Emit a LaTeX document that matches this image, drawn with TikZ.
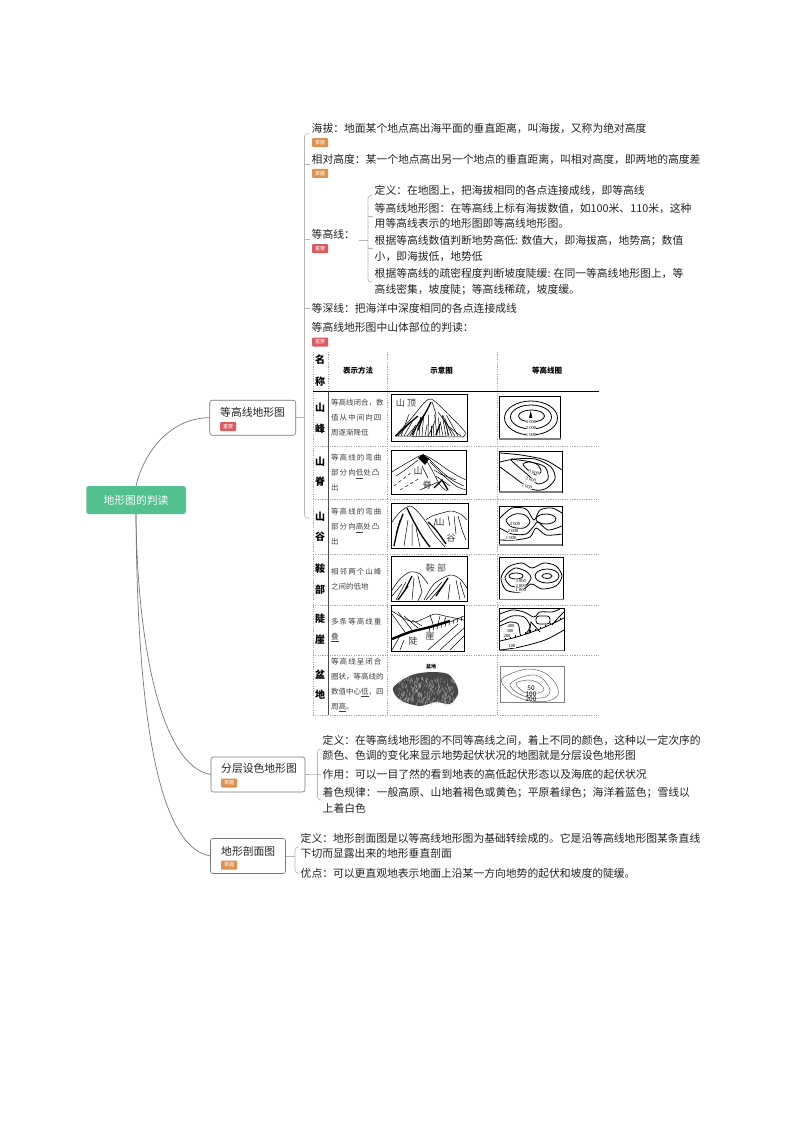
\documentclass[tikz,border=0pt]{standalone}
\usepackage{fontspec}
\setmainfont{Noto Sans CJK SC}
\newfontfamily\numfont{Liberation Serif}
\newfontfamily\widefont[LetterSpace=14]{Noto Sans CJK SC}
\definecolor{rootgreen}{HTML}{52C08F}
\definecolor{tagred}{HTML}{DB5B5F}
\definecolor{tagorange}{HTML}{E0914F}
\definecolor{branchgray}{HTML}{B5B5B5}
\definecolor{curvegray}{HTML}{777777}
\definecolor{inkgray}{HTML}{222222}
\newcommand{\mapbox}[4]{
  \draw[mapframe] (#1,#2) rectangle (#3,#4);
  \draw[draw=gray,line width=1.2pt] (#1,#4) -- (#3,#4);
}
\tikzset{
  topic/.style={draw=curvegray,rounded corners=2.5pt,line width=0.6pt,minimum height=35pt,inner sep=0pt},
  toptext/.style={anchor=west,inner sep=0pt,font=\fontsize{10.8}{13}\selectfont,text=inkgray},
  item/.style={anchor=west,inner sep=0pt,align=left,font=\fontsize{10.8}{15.7}\selectfont,text=inkgray},
  tagbox/.style={anchor=west,fill=#1,text=white,rounded corners=0.8pt,minimum width=16pt,minimum height=9pt,inner sep=0pt,font=\fontsize{5}{6}\selectfont},
  branch/.style={draw=branchgray,line width=0.6pt},
  tickline/.style={branch,shorten >=2pt},
  curveline/.style={draw=curvegray,line width=0.7pt},
  tabdash/.style={draw=gray!70,line width=0.4pt,dash pattern=on 1.2pt off 1.2pt},
  namecell/.style={inner sep=0pt,font=\fontsize{10}{12}\selectfont\bfseries},
  headcell/.style={inner sep=0pt,font=\fontsize{7.5}{9}\selectfont\bfseries},
  celltext/.style={anchor=west,inner sep=0pt,align=left,text=black!75,font=\fontsize{7.5}{15}\selectfont},
  picframe/.style={draw=black,line width=1pt},
  mapframe/.style={draw=black,line width=0.9pt},
  ink/.style={line width=0.5pt},
  inkbold/.style={line width=1.3pt},
  contour/.style={line width=0.8pt},
  sketchlabel/.style={inner sep=0pt,text=black!80,font=\fontsize{9}{10}\selectfont},
  heightlabel/.style={inner sep=0pt,font=\numfont\fontsize{4.6}{5}\selectfont,fill=white,inner xsep=0.3pt}
}
\begin{document}
\begin{tikzpicture}[x=1pt,y=-1pt]
\useasboundingbox (0,0) rectangle (794,1123);
\pgfmathsetseed{7}

\node[fill=rootgreen,rounded corners=2.5pt,minimum width=99.5pt,minimum height=28pt,inner sep=0pt,text=white,font=\fontsize{10.8}{13}\selectfont] (root) at (136,500) {地形图的判读};

\node[topic,minimum width=86pt] (dxt) at (252.7,417.7) {};
\node[toptext] (dxtname) at (220,412) {等高线地形图};
\node[tagbox=tagred] (dxttag) at (220,426.5) {重要};
\node[topic,minimum width=94pt] (fcs) at (258,774.5) {};
\node[toptext] (fcsname) at (221,768) {分层设色地形图};
\node[tagbox=tagorange] (fcstag) at (221,783) {掌握};
\node[topic,minimum width=75pt] (pmt) at (248,856) {};
\node[toptext] (pmtname) at (221,851) {地形剖面图};
\node[tagbox=tagorange] (pmttag) at (221,865) {掌握};

\draw[curveline] (root.north) .. controls (144,452) and (170,418) .. (dxt.west);
\draw[curveline] (root.south) .. controls (137,640) and (160,766) .. (fcs.west);
\draw[curveline] (root.south) .. controls (137,700) and (155,846) .. (pmt.west);

\node[item] (haiba) at (311.5,128.3) {海拔^^^^ff1a地面某个地点高出海平面的垂直距离^^^^ff0c叫海拔^^^^ff0c又称为绝对高度};
\node[tagbox=tagorange] (haibatag) at (312,142.7) {掌握};
\node[item] (xiangdui) at (311.5,159.3) {相对高度^^^^ff1a某一个地点高出另一个地点的垂直距离^^^^ff0c叫相对高度^^^^ff0c即两地的高度差};
\node[tagbox=tagorange] (xiangduitag) at (312,173.3) {掌握};
\node[item] (dgx) at (311.5,234) {等高线^^^^ff1a};
\node[tagbox=tagred] (dgxtag) at (312,248.7) {重要};
\node[item] (dgxdef) at (374.5,190) {定义^^^^ff1a在地图上^^^^ff0c把海拔相同的各点连接成线^^^^ff0c即等高线};
\node[item] (dgxmap) at (374.5,216) {等高线地形图^^^^ff1a在等高线上标有海拔数值^^^^ff0c如100米、110米^^^^ff0c这种\\用等高线表示的地形图即等高线地形图。};
\node[item] (dgxval) at (374.5,248.7) {根据等高线数值判断地势高低: 数值大^^^^ff0c即海拔高^^^^ff0c地势高^^^^ff1b数值\\小^^^^ff0c即海拔低^^^^ff0c地势低};
\node[item] (dgxslope) at (374.5,282) {根据等高线的疏密程度判断坡度陡缓: 在同一等高线地形图上^^^^ff0c等\\高线密集^^^^ff0c坡度陡^^^^ff1b等高线稀疏^^^^ff0c坡度缓。};
\node[item] (dsx) at (311.5,308.3) {等深线^^^^ff1a把海洋中深度相同的各点连接成线};
\node[item] (shanti) at (311.5,327.3) {等高线地形图中山体部位的判读^^^^ff1a};
\node[tagbox=tagred] (shantitag) at (312,342) {重要};

\node[item] (fcsdef) at (322.5,747.8) {定义^^^^ff1a在等高线地形图的不同等高线之间^^^^ff0c着上不同的颜色^^^^ff0c这种以一定次序的\\颜色、色调的变化来显示地势起伏状况的地图就是分层设色地形图};
\node[item] (fcsuse) at (322.5,774.3) {作用^^^^ff1a可以一目了然的看到地表的高低起伏形态以及海底的起伏状况};
\node[item] (fcsrule) at (322.5,800.2) {着色规律^^^^ff1a一般高原、山地着褐色或黄色^^^^ff1b平原着绿色^^^^ff1b海洋着蓝色^^^^ff1b雪线以\\上着白色};
\node[item] (pmtdef) at (300.5,846) {定义^^^^ff1a地形剖面图是以等高线地形图为基础转绘成的。它是沿等高线地形图某条直线\\下切而显露出来的地形垂直剖面};
\node[item] (pmtadv) at (300.5,873) {优点^^^^ff1a可以更直观地表示地面上沿某一方向地势的起伏和坡度的陡缓。};

\coordinate (spine) at (304.5,300);
\coordinate (spineend) at (309,518);
\draw[branch,rounded corners=3pt,shorten <=2pt] (haiba.south west) -| (spine) |- (spineend);
\draw[branch] (spine |- dxt.east) -- (dxt.east);
\draw[tickline] (spine |- xiangdui.south west) -- (xiangdui.south west);
\draw[tickline] (spine |- dgx.south west) -- (dgx.south west);
\draw[tickline] (spine |- dsx.west) -- (dsx.west);

\coordinate (inner) at (368,240);
\coordinate (innerend) at (372,282);
\draw[branch,rounded corners=3pt,shorten <=2pt] (dgxdef.south west) -| (inner) |- (innerend);
\draw[branch] (dgx.south east |- inner) ++(3.5,0) -- (inner);
\draw[tickline] (inner |- dgxmap.west) -- (dgxmap.west);
\draw[tickline] (inner |- dgxval.west) -- (dgxval.west);

\coordinate (fcsspine) at (317.5,774.3);
\coordinate (fcstop) at (321,749);
\coordinate (fcsbot) at (321,800);
\draw[branch,rounded corners=3pt] (fcstop) -| (fcsspine) |- (fcsbot);
\draw[branch] (fcs.east) -- (fcsspine);
\draw[tickline] (fcsspine) -- (fcsuse.west);

\coordinate (pmtspine) at (295,856);
\coordinate (pmttop) at (299,847);
\coordinate (pmtbot) at (299,873);
\draw[branch,rounded corners=3pt] (pmttop) -| (pmtspine) |- (pmtbot);
\draw[branch] (pmt.east) -- (pmtspine);

\foreach \y in {446,499.3,554,605.3,655.3,715}
  \draw[tabdash] (312.7,\y) -- (599,\y);
\draw[tabdash] (312.7,352) -- (312.7,715);
\draw[tabdash] (328,352) -- (328,391);
\draw[tabdash] (387.3,352) -- (387.3,715);
\draw[tabdash] (496.7,352) -- (496.7,715);
\draw[line width=0.8pt] (312.7,391.3) -- (599,391.3);
\draw[draw=black!70,line width=0.9pt] (328,391.3) -- (328,715);

\node[namecell] (head1) at (320,360) {名};
\node[namecell] (head2) at (320,381.7) {称};
\node[headcell] (head3) at (358,371) {表示方法};
\node[headcell] (head4) at (441.7,371) {示意图};
\node[headcell] (head5) at (547,371) {等高线图};
\foreach \i/\a/\b/\ya/\yb in {1/山/峰/408/429,2/山/脊/462/482,3/山/谷/517/537,4/鞍/部/569/590,5/陡/崖/619/640,6/盆/地/675/695}{
  \node[namecell] (namea\i) at (320,\ya) {\a};
  \node[namecell] (nameb\i) at (320,\yb) {\b};
}
\node[celltext] (cell1) at (331,418) {等高线闭合^^^^ff0c数\\{\widefont 值从中间向四}\\周逐渐降低};
\node[celltext] (cell2) at (331,473) {{\widefont 等高线的弯曲}\\{\widefont 部分向\underline{低}处凸}\\出};
\node[celltext] (cell3) at (331,527) {{\widefont 等高线的弯曲}\\{\widefont 部分向\underline{高}处凸}\\出};
\node[celltext] (cell4) at (331,579.5) {{\widefont 相邻两个山峰}\\之间的低地};
\node[celltext] (cell5) at (331,630) {{\widefont 多条等高线重}\\\underline{叠}};
\node[celltext] (cell6) at (331,685) {{\widefont 等高线呈闭合}\\圈状^^^^ff0c等高线的\\数值中心\underline{低}^^^^ff0c四\\周\underline{高}。};

% peak
\draw[picframe] (391.3,394.3) rectangle (467.7,441.7);
\draw[ink] plot[smooth] coordinates {(395,436) (410,420) (424,403) (431,399) (440,406) (452,418) (465,432) (463,437)};
\draw[ink] (395,436) -- (463,437);
\draw[inkbold] plot[smooth] coordinates {(396,436) (405,427) (418,416)};
\draw[inkbold] plot[smooth] coordinates {(431,402) (426,412) (418,424) (412,435)};
\draw[ink] plot[smooth] coordinates {(432,402) (436,416) (432,428) (428,436)};
\draw[ink] plot[smooth] coordinates {(438,412) (446,424) (448,436)};
\foreach \bx in {398,401,...,462}
  \draw[ink] (\bx,436) -- ({431+(\bx-431)*(0.55+rnd*0.3)},{436-8-rnd*14});
\draw[inkbold] (424,415) -- (418,430);
\draw[inkbold] (440,424) -- (436,435);
\node[sketchlabel] (peaklabel) at (406,403) {山 顶};
\mapbox{499.3}{396}{560.7}{439}
\draw[contour] (531,418) ellipse (26.5 and 17);
\draw[contour] (531,417) ellipse (20.5 and 12);
\draw[contour] (531.5,416) ellipse (13 and 6);
\fill (530.7,411) -- (529,418) -- (532.4,418) -- cycle;
\node[heightlabel] (peakh3) at (531,422) {3 000};
\node[heightlabel] (peakh2) at (531,428) {2 000};
\node[heightlabel] (peakh1) at (531,434.5) {1 000};

% ridge
\draw[picframe] (391.3,450) rectangle (466.7,494.3);
\draw[ink] plot[smooth] coordinates {(392,472) (400,467) (412,460) (423,455) (435,461) (448,470) (458,476) (466,480)};
\fill (418,458) -- (423,454) -- (429,459) -- (425,465) -- cycle;
\draw[ink] plot[smooth] coordinates {(425,458) (432,470) (440,485) (447,491)};
\draw[ink] plot[smooth] coordinates {(428,458) (440,470) (452,480) (464,486)};
\draw[ink] plot[smooth] coordinates {(430,462) (444,476) (456,486) (466,490)};
\draw[ink] plot[smooth] coordinates {(418,460) (405,470) (396,476)};
\draw[ink,dashed] (394,486) -- (412,472);
\draw[ink,dashed] (400,490) -- (420,478);
\draw[ink] (434,470) -- (444,476) (440,474) -- (456,480) (436,476) -- (450,486) (422,466) -- (428,478);
\draw[inkbold] (434,488) -- (442,480) -- (448,490);
\draw[ink] (420,490) -- (438,482);
\node[sketchlabel] (ridgelabela) at (418,471) {山};
\node[sketchlabel] (ridgelabelb) at (427,485) {脊};
\mapbox{499.3}{451}{562}{492}
\draw[contour] plot[smooth] coordinates {(500,453) (521,455) (545,460) (562,470)};
\draw[contour] plot[smooth] coordinates {(500,467) (511,475) (531,489) (545,489) (555,479) (551,467) (535,459) (515,459) (500,462)};
\draw[contour] plot[smooth cycle] coordinates {(511,460) (528,475) (538,484) (548,479) (545,467) (531,462) (518,460)};
\draw[contour] plot[smooth cycle] coordinates {(523,464) (528,470) (536,475) (541,472) (538,465) (530,462)};
\node[heightlabel,rotate=-15] (ridgeh3) at (534,472.5) {3 000};
\node[heightlabel,rotate=-15] (ridgeh2) at (531,479.5) {2 000};
\node[heightlabel,rotate=-15] (ridgeh1) at (527,486.5) {1 000};

% valley
\draw[picframe] (391.3,503.3) rectangle (468.3,548.3);
\draw[ink] plot[smooth] coordinates {(392,522) (400,512) (410,506) (418,512) (426,522) (434,534) (445,547)};
\draw[ink] plot[smooth] coordinates {(426,520) (432,516) (442,513) (452,511) (462,515) (467,520)};
\draw[inkbold] plot[smooth] coordinates {(407,508) (414,522) (422,536) (430,547)};
\draw[inkbold] plot[smooth] coordinates {(403,514) (398,528) (394,546)};
\draw[inkbold] plot[smooth] coordinates {(428,522) (436,530) (446,544)};
\draw[ink] (408,520) -- (404,546) (416,528) -- (420,547) (458,516) -- (462,530) (448,516) -- (450,526) (412,524) -- (412,546) (400,520) -- (396,534) (454,516) -- (456,534) (436,518) -- (434,526) (462,530) -- (466,540);
\node[sketchlabel] (valleylabela) at (440,522) {山};
\node[sketchlabel] (valleylabelb) at (451,538) {谷};
\mapbox{499.3}{506.7}{562}{545}
\draw[contour] plot[smooth cycle] coordinates {(506,520) (515,514) (525,515) (530,522) (524,528) (512,527)};
\draw[contour] plot[smooth] coordinates {(500,518) (512,508) (526,509) (534,520) (540,510) (552,508) (562,513)};
\draw[contour] (546,519) ellipse (10 and 5);
\draw[contour] plot[smooth] coordinates {(562,526) (548,530) (538,522) (534,526) (526,534) (512,534) (500,528)};
\draw[contour] plot[smooth] coordinates {(562,534) (546,535) (536,528) (530,537) (515,540) (500,540)};
\node[heightlabel] (valleyh3) at (515,524) {3 000};
\node[heightlabel] (valleyh2) at (513,531) {2 000};
\node[heightlabel] (valleyh1) at (511,538) {1 000};

% saddle
\draw[picframe] (391.3,556.7) rectangle (467.7,601.7);
\draw[ink] plot[smooth] coordinates {(392,590) (400,579) (410,572) (420,574) (428,584)};
\draw[ink] plot[smooth] coordinates {(424,600) (434,584) (450,575) (460,579) (467,588)};
\draw[inkbold] (412,576) -- (404,592) (398,600) -- (408,586);
\draw[inkbold] (448,578) -- (436,596);
\draw[ink] (418,576) -- (422,592) -- (418,601) (456,580) -- (460,600) (444,584) -- (430,600) (392,596) -- (402,584) (450,584) -- (448,600) (414,578) -- (412,600) (406,582) -- (396,600) (442,582) -- (426,600) (460,582) -- (465,598);
\node[sketchlabel,text=black!70] (saddlelabel) at (436,567.7) {鞍 部};
\mapbox{499.3}{557.3}{563.7}{599.3}
\draw[contour] plot[smooth cycle] coordinates {(501,578) (508,567) (522,563) (532,568) (544,563) (556,566) (562,576) (556,586) (542,589) (531,584) (520,592) (506,590)};
\draw[contour] plot[smooth cycle] coordinates {(505,577) (515,568) (527,572) (531,578) (525,586) (511,586)};
\draw[contour] (547,576) ellipse (12 and 7);
\draw[contour] (547,576) ellipse (5 and 2.5);
\draw[contour] (516,576) ellipse (7 and 3);
\node[heightlabel] (saddleh3) at (520.7,581) {3 000};
\node[heightlabel] (saddleh2) at (520.7,585.6) {2 000};
\node[heightlabel] (saddleh1) at (520.7,590.2) {1 000};

% cliff
\draw[picframe] (391.3,605.7) rectangle (464.7,651.7);
\draw[ink] plot[smooth] coordinates {(392,611) (405,619) (415,622) (425,618) (435,614) (445,616) (464,620)};
\draw[line width=2.4pt] plot[smooth] coordinates {(392,639) (410,632) (430,627) (450,621)};
\draw[ink] (392,614) -- (405,632) (398,612) -- (412,630) (430,615) -- (434,627) (440,616) -- (438,624) (446,617) -- (444,622) (404,616) -- (418,628) (412,620) -- (422,626);
\draw[ink] plot[smooth] coordinates {(450,622) (464,616)};
\foreach \tx in {430,434,...,462}
  \draw[ink] (\tx,{627-(\tx-430)*0.33}) -- +(-1,5);
\draw[ink] (392,650) -- (400,636) (400,650) -- (404,640) (440,650) -- (464,628) (450,650) -- (464,636) (428,650) -- (458,624);
\node[sketchlabel] (clifflabela) at (413,641) {陡};
\node[sketchlabel] (clifflabelb) at (430,636) {崖};
\mapbox{499.3}{608.3}{564.3}{650.3}
\draw[contour] plot[smooth] coordinates {(500,614) (512,610) (524,612) (534,617) (540,612) (552,612) (560,609)};
\draw[contour] plot[smooth] coordinates {(500,622) (512,616) (524,617) (530,626) (526,634)};
\draw[contour] plot[smooth] coordinates {(500,626) (510,622) (518,624) (520,634)};
\draw[contour] (529,634) -- (531,622) -- (540,632);
\draw[contour,rounded corners=3pt] (536,616) rectangle (550,624);
\draw[contour] plot[smooth] coordinates {(552,625) (558,618) (564,612)};
\draw[contour] plot[smooth] coordinates {(500,641) (520,636) (545,627) (564,618)};
\foreach \tx/\ty in {505/640,510/639,515/637,520/636,525/634,530/632,535/631,540/629,545/627,550/625,555/622,560/620}
  \draw[line width=0.4pt] (\tx,\ty) -- +(0,-2.5);
\draw[contour] plot[smooth] coordinates {(500,650) (520,647) (545,640) (564,630)};
\node[heightlabel] (cliffh4) at (511,625.5) {400};
\node[heightlabel] (cliffh3) at (510,630.5) {300};
\node[heightlabel] (cliffh2) at (507,635.5) {200};
\node[heightlabel] (cliffh1) at (512,646) {100};

% basin
\node[inner sep=0pt,font=\fontsize{5}{6}\selectfont\bfseries] (basinlabel) at (431,666.7) {盆地};
\fill[black!72] plot[smooth cycle] coordinates {(393,688) (402,680) (415,674) (432,672) (448,674) (456,684) (458,694) (450,704) (436,702) (420,706) (404,702) (396,696)};
\foreach \i in {1,...,240}{
  \pgfmathsetmacro{\mx}{398+rnd*56}
  \pgfmathsetmacro{\my}{676+rnd*26}
  \draw[white!70!black,line width=0.3pt] (\mx,\my) -- +(-2+rnd*4,2+rnd*2);
}
\draw[draw=gray,line width=0.6pt] (500,666) rectangle (564.7,702.7);
\draw[draw=gray!80!black,line width=0.5pt] plot[smooth cycle] coordinates {(501,680) (515,672) (530,669) (545,673) (556,684) (558,695) (548,701) (530,701) (512,694)};
\draw[draw=gray!80!black,line width=0.5pt] plot[smooth cycle] coordinates {(510,684) (522,677) (535,675) (544,680) (550,690) (546,697) (530,698) (516,692)};
\draw[draw=gray!80!black,line width=0.5pt] plot[smooth cycle] coordinates {(516,683) (530,680) (540,684) (544,690) (538,693) (524,692)};
\node[inner sep=0pt,font=\fontsize{6.5}{7}\selectfont] (basinh1) at (531,688.5) {50};
\node[inner sep=0pt,font=\fontsize{6.5}{7}\selectfont] (basinh2) at (531,694) {100};
\node[inner sep=0pt,font=\fontsize{6.5}{7}\selectfont] (basinh3) at (531,699.5) {200};
\end{tikzpicture}
\end{document}
